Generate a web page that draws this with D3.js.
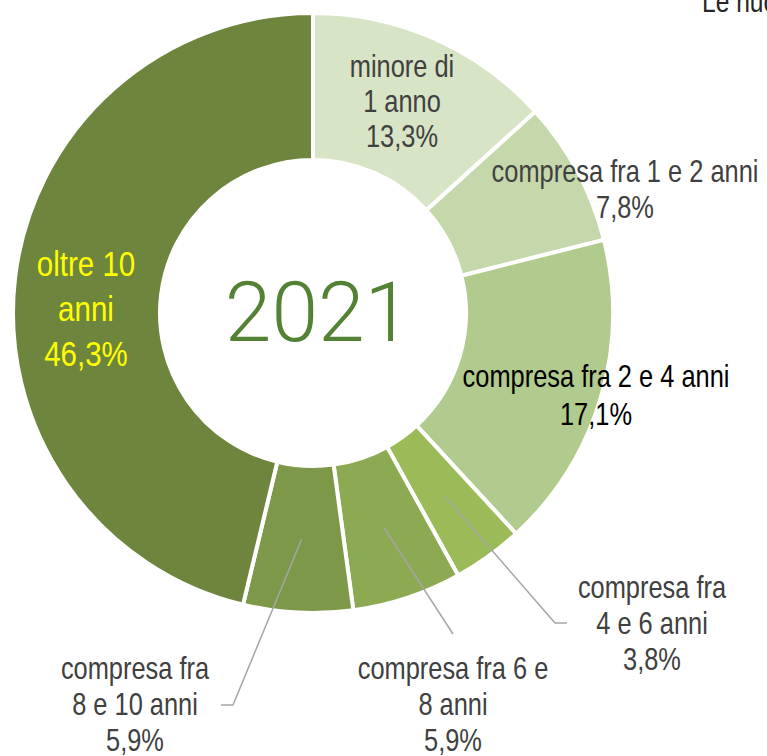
<!DOCTYPE html>
<html>
<head>
<meta charset="utf-8">
<script src="https://cdn.jsdelivr.net/npm/d3@7"></script>
<style>
  html, body { margin: 0; padding: 0; background: #ffffff; overflow: hidden; }
  svg { display: block; }
</style>
</head>
<body>
<svg id="chart" width="767" height="756"></svg>
<script>
// ---- data ----
const categories = [
  "minore di 1 anno",
  "compresa fra 1 e 2 anni",
  "compresa fra 2 e 4 anni",
  "compresa fra 4 e 6 anni",
  "compresa fra 6 e 8 anni",
  "compresa fra 8 e 10 anni",
  "oltre 10 anni"
];
const values = [13.3, 7.8, 17.1, 3.8, 5.9, 5.9, 46.3];
const labelLines = [
  ["minore di", "1 anno", "13,3%"],
  ["compresa fra 1 e 2 anni", "7,8%"],
  ["compresa fra 2 e 4 anni", "17,1%"],
  ["compresa fra", "4 e 6 anni", "3,8%"],
  ["compresa fra 6 e", "8 anni", "5,9%"],
  ["compresa fra", "8 e 10 anni", "5,9%"],
  ["oltre 10", "anni", "46,3%"]
];
const yearLabel = "2021";
const cornerText = "Le nuove imprese";

// ---- styles / layout ----
const colors = ["#d8e4c6", "#c5d8ac", "#b1ca8d", "#9bbb59", "#8caa52", "#7e9849", "#6e853e"];
const labelColors = ["#404040", "#404040", "#000000", "#404040", "#404040", "#404040", "#ffff00"];
const labelSizes = [31, 31, 31, 31, 31, 31, 36];
const lineGaps = [35, 36, 38, 36, 36, 36, 45];
// label anchor: center x, first baseline y
const labelPos = [
  [402, 77], [625, 182], [596, 387], [652, 598], [453, 679], [135, 679], [86, 276]
];
// leader lines: [bend, end] (null = no leader)
const leaders = [null, null, null, [[555, 623], [567, 623]], [[453, 634], null], [[233, 705], [221, 705]], null];

const cx = 313, cy = 313, outerR = 300, innerR = 153;
const labelFont = "'Liberation Sans', Arial, sans-serif";
const narrow = 0.82;

const svg = d3.select("#chart");
const g = svg.append("g").attr("transform", `translate(${cx},${cy})`);

const pie = d3.pie().sort(null).value(d => d.value).startAngle(0).endAngle(2 * Math.PI);
const arc = d3.arc().innerRadius(innerR).outerRadius(outerR);
const data = categories.map((c, i) => ({ name: c, value: values[i], i }));
const arcs = pie(data);

g.selectAll("path.slice")
  .data(arcs)
  .join("path")
  .attr("class", "slice")
  .attr("d", arc)
  .attr("fill", d => colors[d.data.i])
  .attr("stroke", "#ffffff")
  .attr("stroke-width", 4)
  .attr("stroke-linejoin", "miter");

// leader lines
arcs.forEach(a => {
  const L = leaders[a.data.i];
  if (!L) return;
  const c = arc.centroid(a);
  const pts = [[c[0] + cx, c[1] + cy], L[0]];
  if (L[1]) pts.push(L[1]);
  svg.append("polyline")
    .attr("points", pts.map(p => p.join(",")).join(" "))
    .attr("fill", "none")
    .attr("stroke", "#a6a6a6")
    .attr("stroke-width", 1.5);
});

// labels (condensed to emulate a narrow face)
arcs.forEach(a => {
  const i = a.data.i;
  const t = svg.append("text")
    .attr("transform", `translate(${labelPos[i][0]},${labelPos[i][1]}) scale(${narrow},1)`)
    .attr("text-anchor", "middle")
    .attr("font-family", labelFont)
    .attr("font-size", labelSizes[i])
    .attr("fill", labelColors[i]);
  labelLines[i].forEach((ln, k) => {
    t.append("tspan")
      .attr("x", 0)
      .attr("y", k * lineGaps[i])
      .text(ln);
  });
});

// center year
svg.append("text")
  .attr("x", 318).attr("y", 341)
  .attr("text-anchor", "middle")
  .attr("font-family", "'Helvetica Neue', Roboto, 'Liberation Sans', sans-serif")
  .attr("font-weight", 300)
  .attr("font-size", 84)
  .attr("fill", "#548235")
  .text(yearLabel);

// corner clipped text
svg.append("text")
  .attr("transform", `translate(702,12) scale(${narrow},1)`)
  .attr("font-family", labelFont)
  .attr("font-size", 30)
  .attr("fill", "#262626")
  .text(cornerText);
</script>
</body>
</html>
